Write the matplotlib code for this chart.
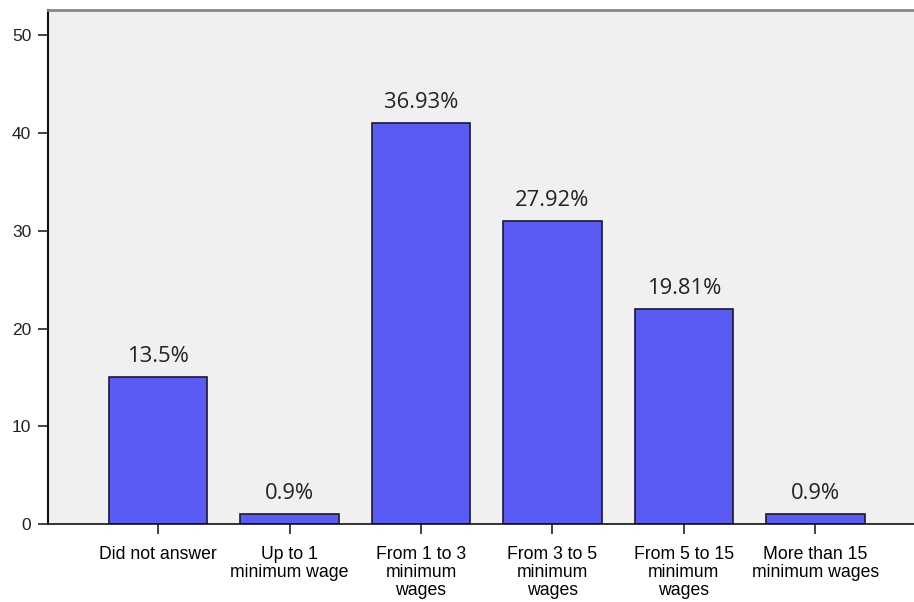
import matplotlib
matplotlib.use("Agg")
import matplotlib.pyplot as plt

# Income categories and counts
categories = ["Did not answer", "Up to 1\nminimum wage", "From 1 to 3\nminimum\nwages",
              "From 3 to 5\nminimum\nwages", "From 5 to 15\nminimum\nwages",
              "More than 15\nminimum wages"]
counts = [15, 1, 41, 31, 22, 1]
percent_labels = ["13.5%", "0.9%", "36.93%", "27.92%", "19.81%", "0.9%"]
y_ticks = [0, 10, 20, 30, 40, 50]

fig = plt.figure(figsize=(9.14, 6.02), dpi=100)
ax = fig.add_axes([0.0525, 0.1296, 0.9475, 0.8538])
ax.set_facecolor("#f0f0f0")

x = list(range(len(categories)))
bars = ax.bar(x, counts, width=0.75, color="#5a5af5", edgecolor="#1a1a2e", linewidth=1.2)

for bar, lab in zip(bars, percent_labels):
    ax.annotate(lab, (bar.get_x() + bar.get_width() / 2, bar.get_height()),
                xytext=(0, 7.5), textcoords="offset points", ha="center", va="bottom",
                fontsize=15.8, family="Open Sans", color="#222222")

ax.set_xlim(-0.837, 5.75)
ax.set_ylim(0, 52.6)
ax.set_xticks(x)
ax.set_xticklabels(categories, fontsize=12.7, family="Liberation Sans", linespacing=1.08)
ax.set_yticks(y_ticks)
ax.set_yticklabels([str(v) for v in y_ticks], fontsize=12.5, family="Liberation Sans", color="#222222")
ax.tick_params(axis="both", direction="out", length=7, width=1.2, color="#222222")
ax.tick_params(axis="x", pad=9)
ax.tick_params(axis="y", pad=5)

ax.spines["left"].set_color("#111111")
ax.spines["left"].set_linewidth(1.5)
ax.spines["bottom"].set_color("#111111")
ax.spines["bottom"].set_linewidth(1.2)
ax.spines["top"].set_color("#888888")
ax.spines["top"].set_linewidth(2)
ax.spines["right"].set_visible(False)

fig.savefig("out.png", dpi=100, facecolor="white")
